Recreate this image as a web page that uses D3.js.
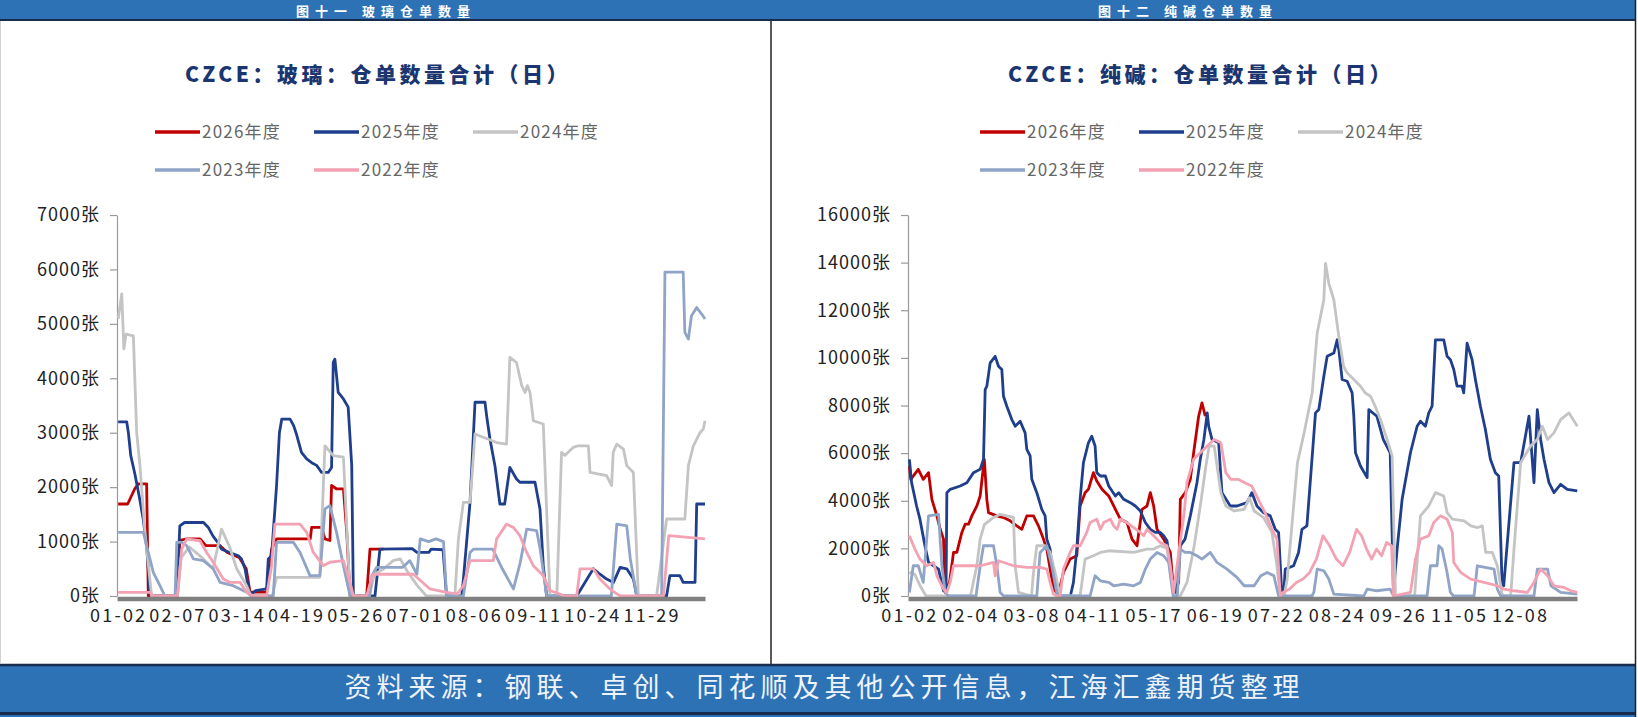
<!DOCTYPE html>
<html>
<head>
<meta charset="utf-8">
<script src="https://cdn.jsdelivr.net/npm/d3@7"></script>
<style>
  body { margin: 0; background: #fff; }
  svg { display: block; font-family: "Noto Sans CJK SC", "Noto Sans", sans-serif; }
</style>
</head>
<body>
<svg id="chart"></svg>
<script>
// ---- data: [trading-day index, 张] ----
let years = ["2026年度", "2025年度", "2024年度", "2023年度", "2022年度"];
let colors = ["#C00000", "#1F3F8C", "#C4C4C4", "#8FA4C6", "#F2A2B2"];

let glassDates = ["01-02", "02-07", "03-14", "04-19", "05-26", "07-01", "08-06", "09-11", "10-24", "11-29"];
let sodaDates = ["01-02", "02-04", "03-08", "04-11", "05-17", "06-19", "07-22", "08-24", "09-26", "11-05", "12-08"];

let glass2026 = [[0,1690],[4,1690],[7,1970],[8.5,2060],[12,2060],[12.7,0],[25,0],[26,1020],[29,1050],[34.5,1050],[37,925],[43,925],[46,800],[51,710],[54,500],[55.6,70],[62.6,70],[64.7,860],[66.8,1050],[81,1050],[81.6,1260],[85.8,1260],[87.2,1050],[89.3,1020],[90,2030],[92,1970],[95,1970],[96.4,1170],[97.8,0],[104.8,0],[106.2,860],[112,860]];
let glass2025 = [[0,3200],[3.6,3200],[4.3,3000],[5.3,2580],[7,2250],[9,1800],[10.6,1400],[12,900],[13.5,0],[24.7,0],[26,1290],[28,1350],[36,1350],[38,1260],[40,1100],[42,985],[43.6,860],[47,800],[50.7,740],[52,680],[53.5,500],[55,130],[55.6,20],[58,100],[62.6,130],[63.3,680],[64.7,740],[66.8,2030],[68,3000],[69,3250],[72.5,3250],[74,3130],[75,3000],[77.3,2640],[79.5,2520],[81.6,2450],[83.7,2400],[85.8,2270],[88.6,2270],[90,2360],[90.7,4290],[91.4,4350],[92.8,3740],[95,3620],[97,3470],[98.5,2400],[99.2,0],[108.3,0],[110.4,860],[124,870],[126,800],[131,800],[132,860],[137,850],[138.5,0],[144.9,0],[145.6,312],[148.4,1720],[150.5,3560],[154.7,3560],[155.4,3310],[156.8,2885],[158.9,2395],[161,1690],[163,1690],[165.2,2364],[168,2150],[169.4,2090],[175.8,2090],[177.9,1600],[179.3,557],[180.7,0],[193.4,0],[200.4,500],[203.2,400],[206,312],[208.9,250],[211.7,527],[214.5,500],[217.3,312],[218.7,0],[231.3,0],[232.7,374],[236.9,374],[238.3,250],[243.3,250],[244,1690],[247.5,1690]];
let glass2024 = [[0,5090],[1.5,5550],[2.4,4540],[3.3,4810],[6.4,4780],[7.8,3000],[9.2,2390],[11.3,1170],[14.1,0],[25,0],[26.5,700],[30,900],[35,720],[40,500],[43.6,1230],[47,900],[50,500],[54,200],[56,0],[65,0],[66.8,343],[85,343],[87.2,2760],[90.7,2580],[95,2550],[97.8,0],[106,0],[108,400],[112,500],[116,650],[119,680],[122,450],[126,200],[130,0],[142,0],[143.5,1050],[145.6,1720],[148.4,1720],[150.5,2977],[159.6,2820],[163.8,2790],[165.2,4385],[168,4290],[170.2,3865],[171.6,3740],[172.6,3865],[173.7,3740],[175.1,3220],[179.3,3160],[182.1,0],[185,0],[187,2640],[188.4,2580],[189.8,2640],[191.9,2730],[194,2760],[198.3,2760],[199,2270],[206,2210],[208.1,2030],[208.8,2640],[210.3,2790],[213.1,2700],[214.5,2395],[217.3,2270],[219.4,0],[227.1,0],[231.3,1415],[239,1415],[240.5,2395],[242.6,2760],[245.4,3000],[246.8,3070],[247.5,3220]];
let glass2023 = [[0,1170],[10.6,1170],[12.7,800],[14.8,435],[17.6,190],[19.7,0],[24,0],[24.7,985],[26.8,985],[28.9,925],[31.7,680],[35.9,650],[40.1,500],[43,250],[48.5,190],[54.2,70],[56.3,0],[65.4,0],[66.8,985],[73.9,985],[76.7,800],[80.9,374],[85.1,374],[87.2,1600],[89.3,1660],[92.1,1170],[95,557],[97.8,0],[106,0],[107,374],[109,527],[120,527],[123,650],[126,400],[127.4,1050],[131,1000],[134,1050],[137.2,1000],[138.5,0],[145.6,0],[148.4,800],[149.8,860],[158,860],[162,500],[166.7,130],[169.5,600],[172.3,1230],[176.5,1200],[178,860],[180.7,0],[208,0],[210.3,1320],[214.5,1290],[216,680],[218.7,0],[229.2,0],[230.6,5950],[238.3,5950],[239,4845],[240.5,4720],[241.8,5150],[244,5300],[246.1,5180],[247.5,5090]];
let glass2022 = [[0,67],[13.4,67],[14.8,0],[25,0],[26.8,860],[28.9,1050],[34.5,1015],[37.3,800],[40.1,620],[44.3,312],[47.2,250],[51.4,250],[54.2,70],[57,0],[62.6,0],[64.7,557],[66.1,1320],[76.7,1320],[79.5,1170],[82.3,800],[86.5,557],[89.3,620],[95,650],[97.8,250],[99.2,0],[104.8,0],[106,190],[107.6,400],[124.5,400],[131.5,130],[138.5,67],[143,37],[145.6,190],[148.4,650],[158.2,650],[159.6,1050],[163.8,1320],[166.7,1260],[169.4,1110],[172.3,800],[175.1,557],[179.3,374],[182.1,100],[186.3,37],[188,0],[193.4,0],[194.8,500],[200.4,500],[203.2,312],[207.4,130],[210.3,37],[212,0],[230,0],[232.2,1110],[247.5,1050]];

let soda2026 = [[0,5460],[0.5,4900],[3.2,5320],[5,4900],[6.9,5180],[8.1,4060],[9.9,3365],[11.1,2800],[12.3,2390],[12.9,150],[14.5,600],[15.9,1830],[17.1,1830],[18.9,2670],[20.1,3015],[21.3,3015],[22.5,3365],[24.3,3780],[25.5,4200],[26.7,5460],[27,5740],[27.9,4060],[28.5,3500],[31.5,3365],[33.9,3295],[36.3,3155],[38.7,2945],[40.5,2800],[42.3,3365],[44.7,3365],[46.5,2945],[48.3,2390],[49.5,1970],[51.9,290],[53.7,80],[55.5,990],[57.9,1550],[60.3,1690],[61.5,3780],[63.3,4340],[64.5,4480],[66.3,5180],[67.5,4830],[69.4,4480],[71.8,4200],[73.6,3780],[76,3225],[78.4,3085],[80.2,2390],[82,2110],[83.8,3640],[85.6,3780],[86.8,4340],[88,3780],[89.2,2800],[91.6,2390],[94,1830],[95.2,150],[97,570],[97.6,4060],[99.4,4340],[101.2,4900],[102.4,6015],[104.2,7550],[105.4,8110],[106.6,7550]];
let soda2025 = [[0,5740],[0.8,4760],[2.6,3780],[3.8,3225],[5.6,2110],[6.9,1410],[8.7,1270],[10.5,1130],[12.3,220],[13.2,200],[13.5,4340],[14.7,4480],[18.3,4620],[20.7,4760],[23.1,5180],[25.5,5320],[26.7,5740],[27.3,8670],[27.9,8810],[29.1,9790],[30.9,10065],[32.1,9650],[33.3,9510],[33.9,8390],[35.1,7970],[36.9,7410],[38.1,7130],[39.9,7340],[41.7,6850],[42.3,6160],[43.5,5880],[44.1,4900],[45.9,4340],[47.7,3640],[48.9,3365],[49.5,2390],[50.7,1970],[51.3,1270],[53.1,150],[54.3,0],[58,0],[59.1,570],[60.3,1970],[61.5,4060],[62.7,5600],[64.5,6435],[65.7,6710],[66.9,6300],[67.5,5180],[68.8,5040],[70.6,5040],[71.8,4620],[74.2,4200],[75.4,4340],[77.2,4060],[79.6,3920],[81.4,3780],[83.2,3570],[85,3085],[86.8,2800],[88.6,2670],[90.4,2670],[91.6,2530],[92.8,2320],[94,1270],[95.2,150],[96.4,150],[97.6,2110],[99.3,2390],[101.2,3365],[103.6,4760],[104.8,5740],[106.1,6575],[107.3,7690],[107.8,7130],[109,6575],[111.4,6435],[112.6,4340],[115.6,3780],[118,3780],[121.6,3920],[123.4,4340],[125.2,3780],[127.6,3500],[130,3365],[131.8,2800],[133,2670],[134.2,0],[134.8,0],[135.4,1130],[138.4,1270],[140.2,1830],[141.4,2800],[143.2,2945],[146.3,7690],[147.5,7830],[149.3,9230],[150.5,10065],[152.9,10200],[154.1,10760],[154.7,10345],[155.9,9090],[157.7,9020],[159.5,8530],[160.1,7550],[160.7,6015],[162.5,5460],[164.9,4970],[165.5,7830],[168.4,7550],[170.7,6575],[173.2,6015],[174.4,150],[175.7,1970],[177.5,4060],[180.5,6015],[182.9,7130],[184.1,7340],[185.9,7130],[187.1,7690],[188.3,7970],[189.5,10760],[192.5,10760],[193.7,10065],[194.9,9925],[196.1,9510],[197.3,8810],[199.1,8810],[199.7,8530],[200.9,10620],[202.7,9925],[203.9,9090],[205.7,7970],[207.5,6990],[209.3,5740],[211.1,5180],[212.3,5040],[213.5,570],[214.1,430],[217.8,5600],[220.2,5600],[223.2,7550],[225,4760],[226.2,7830],[227.4,6575],[228.6,5740],[230.4,4760],[232.2,4340],[234.6,4690],[237,4480],[240.6,4410]];
let soda2024 = [[0,1000],[2,900],[4,400],[6,0],[22,0],[24.3,1270],[25.5,2390],[27,3000],[30.3,3300],[32.7,3430],[35.1,3365],[37.5,3300],[38.1,1270],[39.3,150],[44,0],[44.7,990],[45.9,2110],[48.9,2110],[50.7,1830],[52.5,990],[54.3,0],[61.5,0],[63.3,1550],[66.3,1690],[68.8,1830],[71.8,1900],[80.8,1830],[85.6,1970],[88,1970],[90.4,2110],[92.8,2000],[95.2,0],[97.6,0],[100,570],[102.4,1970],[104.8,3780],[106.8,5460],[108,6300],[109.8,6300],[112.2,4340],[114,3780],[117,3570],[120.6,3640],[122.5,4130],[124.2,3570],[127.6,3295],[130.6,2670],[132.4,1270],[133.6,0],[135,0],[136.1,710],[138,3225],[139.8,5600],[142.2,6850],[145.1,8530],[146.9,11040],[149.3,12440],[149.9,13970],[151.1,13130],[152.9,12440],[154.7,10900],[156.4,9650],[157.7,9370],[160.1,9090],[162.5,8810],[164.2,8530],[166.1,8390],[167.8,7970],[169.7,7410],[172.1,6575],[173.9,5880],[175.1,0],[182,0],[184.1,3365],[187.1,3780],[189.5,4340],[192.5,4200],[193.7,3500],[195.6,3225],[199.8,3155],[202.3,2945],[204.7,2875],[206.4,2945],[207.6,1830],[210,1830],[211.8,1270],[213.6,0],[216.6,0],[217.8,1970],[220.2,5600],[223.8,6300],[226.2,6575],[228,7130],[229.9,6575],[232.2,6850],[234.6,7410],[237.6,7690],[240.6,7130]];
let soda2023 = [[0,150],[1.4,1270],[3.2,1270],[5,570],[6.9,3365],[10.5,3430],[11.7,1270],[12.9,150],[14,0],[24,0],[25.5,1270],[26.7,2110],[30.3,2110],[31.5,1270],[32.7,150],[34,0],[45.9,0],[47.1,1830],[49.5,2110],[51.3,1270],[53.1,150],[54,0],[65.1,0],[66.9,850],[68.8,640],[71.8,570],[73.6,430],[77.2,500],[80.8,430],[83.2,570],[85,1130],[86.8,1550],[89.2,1830],[91.6,1690],[93.4,1410],[95,0],[96.5,0],[97.6,1970],[99.3,1830],[101.2,1830],[103.6,1690],[105.4,1550],[108.4,1830],[110.8,1410],[114.4,1130],[118,780],[120.6,430],[124.2,430],[126.6,850],[128.9,990],[131.3,850],[133,0],[145,0],[145.7,150],[146.9,1130],[149.3,1060],[151.1,710],[152.9,80],[163.7,0],[164.9,290],[168.4,220],[173.2,290],[174.4,0],[186.5,0],[187.7,1270],[190.1,1270],[190.7,2110],[191.9,1970],[193.7,990],[194.9,150],[196,0],[203.4,0],[204.6,1270],[210.6,1130],[211.8,290],[213,0],[225,0],[226.2,1130],[229.9,1130],[231.1,430],[234.6,150],[240.6,80]];
let soda2022 = [[0,2530],[2,1970],[3.8,1550],[6.2,1270],[8.7,1410],[9.9,850],[12.3,290],[13.5,150],[14.7,570],[15.9,1270],[25.5,1270],[30.3,1410],[30.9,850],[32.1,1480],[37.5,1270],[42.3,1200],[47.1,1200],[49.5,1130],[50.7,570],[51.9,80],[53.1,0],[54.3,0],[55.5,1130],[57.9,1830],[59.1,2110],[61.5,2110],[63.9,2670],[65.1,3085],[67.5,3225],[68.8,2800],[70,3085],[72.4,3225],[73.6,2945],[74.8,2800],[76,3225],[78.4,3085],[80.8,2875],[83.2,2670],[84.4,2530],[85.6,2800],[88,2530],[90.4,2250],[92.8,2110],[94,1270],[95.2,150],[96.4,1270],[99,3500],[100,4760],[102.4,5740],[104.8,6015],[107.3,6300],[109.8,6575],[112.2,6435],[114,5180],[115.8,4900],[118.4,4900],[120.8,4760],[123.3,4620],[125.7,4060],[128.1,3500],[130.6,2800],[132.4,2390],[133.6,0],[134.6,150],[137,290],[139.4,570],[141.8,710],[144.2,990],[146.6,1550],[149,2530],[151.4,2110],[153.8,1550],[156.2,1270],[158.6,1830],[161.1,2800],[162.9,2530],[164.7,1970],[166.5,1550],[168.3,1970],[170.1,1690],[171.9,2250],[173.7,2110],[174.4,0],[180.5,150],[182.3,1550],[184.1,2390],[187.1,2530],[188.9,3085],[191.3,3365],[193.7,3225],[195.6,2670],[196.1,1410],[198.6,990],[202.2,710],[207,570],[211.8,430],[214.1,290],[217.8,220],[222.6,150],[225,570],[227.4,1130],[229.9,850],[232.2,430],[235.8,360],[238.3,220],[240.6,150]];

// ---- layout ----
let width = 1638;
let height = 717;
let blue = "#2E72B6";
let dark = "#1A2C4E";

let svg = d3.select("#chart").attr("width", width).attr("height", height);

svg.append("rect").attr("width", width).attr("height", height).attr("fill", "#fff");

// header band
svg.append("rect").attr("x", 0).attr("y", 0).attr("width", 1636).attr("height", 20).attr("fill", blue);
svg.append("line").attr("x1", 0).attr("x2", 1636).attr("y1", 20).attr("y2", 20)
    .attr("stroke", dark).attr("stroke-width", 2);
svg.append("text").attr("x", 386).attr("y", 15.5)
    .attr("text-anchor", "middle").attr("fill", "#fff")
    .style("font-size", "13px").style("font-weight", "bold")
    .style("letter-spacing", "6px")
    .text("图十一 玻璃仓单数量");
svg.append("text").attr("x", 1188).attr("y", 15.5)
    .attr("text-anchor", "middle").attr("fill", "#fff")
    .style("font-size", "13px").style("font-weight", "bold")
    .style("letter-spacing", "6px")
    .text("图十二 纯碱仓单数量");

// footer band
svg.append("rect").attr("x", 0).attr("y", 665).attr("width", 1636).attr("height", 52).attr("fill", blue);
svg.append("line").attr("x1", 0).attr("x2", 1636).attr("y1", 665).attr("y2", 665)
    .attr("stroke", dark).attr("stroke-width", 2.5);
svg.append("line").attr("x1", 0).attr("x2", 1636).attr("y1", 713.5).attr("y2", 713.5)
    .attr("stroke", dark).attr("stroke-width", 3);
svg.append("text").attr("x", 822).attr("y", 697)
    .attr("text-anchor", "middle").attr("fill", "#EEF3FA")
    .style("font-size", "27px")
    .attr("textLength", 955).attr("lengthAdjust", "spacing")
    .text("资料来源：钢联、卓创、同花顺及其他公开信息，江海汇鑫期货整理");

// panel borders
svg.append("line").attr("x1", 771).attr("x2", 771).attr("y1", 21).attr("y2", 664)
    .attr("stroke", "#222").attr("stroke-width", 1.5);
svg.append("line").attr("x1", 1635.5).attr("x2", 1635.5).attr("y1", 0).attr("y2", 717)
    .attr("stroke", "#222").attr("stroke-width", 1.5);
svg.append("line").attr("x1", 0.5).attr("x2", 0.5).attr("y1", 21).attr("y2", 664)
    .attr("stroke", "#d0d0d0").attr("stroke-width", 1);

let panels = [
    {title: "CZCE：玻璃：仓单数量合计（日）", cx: 378, left: 117, right: 705, yMax: 7000, yStep: 1000,
     n: 248, labelStep: 25, labels: glassDates, legendX: 155,
     series: [glass2026, glass2025, glass2024, glass2023, glass2022]},
    {title: "CZCE：纯碱：仓单数量合计（日）", cx: 1201, left: 908, right: 1577, yMax: 16000, yStep: 2000,
     n: 241, labelStep: 22, labels: sodaDates, legendX: 980,
     series: [soda2026, soda2025, soda2024, soda2023, soda2022]}
];

let plotBottom = 596;
let plotTop = 215;

let drawPanel = (p) => {
    let g = svg.append("g");

    let xScale = d3.scaleLinear().domain([0, p.n]).range([p.left, p.right]);
    let yScale = d3.scaleLinear().domain([0, p.yMax]).range([plotBottom, plotTop]);

    // title
    g.append("text")
        .attr("x", p.cx).attr("y", 82)
        .attr("text-anchor", "middle")
        .attr("fill", "#1B3570")
        .style("font-size", "21px").style("font-weight", "900")
        .style("letter-spacing", "3.5px")
        .text(p.title);

    // legend, two rows
    years.forEach((name, k) => {
        let row = k < 3 ? 0 : 1;
        let col = k < 3 ? k : k - 3;
        let lx = p.legendX + col * 159;
        let ly = row === 0 ? 132 : 170;
        g.append("line")
            .attr("x1", lx).attr("x2", lx + 45)
            .attr("y1", ly).attr("y2", ly)
            .attr("stroke", colors[k]).attr("stroke-width", 3.5);
        g.append("text")
            .attr("x", lx + 47).attr("y", ly)
            .attr("dy", "0.36em")
            .attr("fill", "#666")
            .style("font-size", "17px")
            .style("letter-spacing", "1.2px")
            .text(name);
    });

    // y axis
    let yAxis = d3.axisLeft(yScale)
        .tickValues(d3.range(0, p.yMax + 1, p.yStep))
        .tickSize(7)
        .tickSizeOuter(0)
        .tickPadding(10)
        .tickFormat((d) => d + "张");

    let ya = g.append("g")
        .attr("transform", "translate(" + p.left + ",0)")
        .call(yAxis);
    ya.select(".domain").attr("stroke", "#9a9a9a").attr("stroke-width", 1.2);
    ya.selectAll(".tick line").attr("stroke", "#9a9a9a").attr("stroke-width", 1.2);
    ya.selectAll(".tick text")
        .attr("fill", "#222")
        .style("font-size", "18px")
        .style("font-family", "\"Noto Sans CJK SC\", sans-serif")
        .style("letter-spacing", "1px");

    // lines
    let line = d3.line()
        .x((d) => xScale(d[0] + 0.5))
        .y((d) => yScale(d[1]));

    p.series.forEach((s, k) => {
        g.append("path")
            .datum(s)
            .attr("d", line)
            .attr("fill", "none")
            .attr("stroke", colors[k])
            .attr("stroke-width", 2.8)
            .attr("stroke-linejoin", "round");
    });

    // x axis: thick grey base line, labels every labelStep days
    let xAxis = d3.axisBottom(xScale)
        .tickValues(p.labels.map((d, i) => i * p.labelStep + 0.5))
        .tickFormat((d, i) => p.labels[i])
        .tickSize(0)
        .tickSizeOuter(0)
        .tickPadding(11);

    let xa = g.append("g")
        .attr("transform", "translate(0," + (plotBottom + 2.5) + ")")
        .call(xAxis);
    xa.select(".domain").attr("stroke", "#808080").attr("stroke-width", 4.5);
    xa.selectAll(".tick text")
        .attr("fill", "#222")
        .style("font-size", "18px")
        .style("font-family", "\"Noto Sans CJK SC\", sans-serif")
        .style("letter-spacing", "2.2px");
};

panels.forEach(drawPanel);
</script>
</body>
</html>
